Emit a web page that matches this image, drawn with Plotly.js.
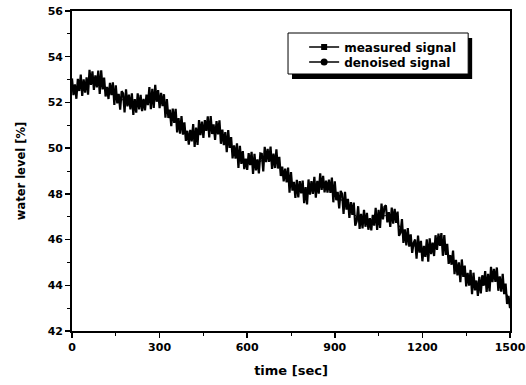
<!DOCTYPE html>
<html>
<head>
<meta charset="utf-8">
<script src="https://cdn.plot.ly/plotly-3.0.1.min.js"></script>
<style>html,body{margin:0;padding:0;background:#fff;}#chart{width:526px;height:385px;}</style>
</head>
<body>
<div id="chart"></div>
<script>
// sampling of the measured signal (sec)
var measuredT0 = 0;
var measuredDt = 5;
// measured water level [%], one value every 5 s
var measuredSignal = [
  53.05, 52.32, 52.79, 52.16, 53.03,
  52.50, 53.22, 52.29, 53.01, 52.43,
  53.10, 52.34, 53.43, 52.77, 53.36,
  52.55, 53.18, 52.66, 53.39, 52.37,
  53.40, 52.57, 53.09, 52.26, 52.68,
  52.15, 52.86, 52.32, 52.88, 51.89,
  52.75, 51.96, 52.37, 51.68, 52.49,
  52.40, 51.56, 52.57, 51.83, 52.34,
  51.70, 52.40, 51.45, 52.15, 51.55,
  52.40, 51.69, 52.33, 51.62, 52.16,
  51.65, 52.34, 51.88, 52.67, 51.71,
  52.60, 51.76, 52.77, 52.03, 52.54,
  51.75, 52.42, 51.84, 52.36, 51.33,
  52.15, 51.32, 51.69, 50.96, 51.73,
  51.10, 51.72, 50.69, 51.31, 50.63,
  51.40, 50.59, 51.13, 50.32, 50.76,
  50.15, 50.80, 50.30, 51.05, 50.05,
  50.90, 50.14, 51.23, 50.57, 51.16,
  50.45, 51.23, 50.76, 51.39, 50.47,
  51.40, 50.62, 51.04, 50.36, 51.18,
  50.60, 51.22, 50.19, 50.81, 50.13,
  50.70, 49.82, 50.79, 50.01, 50.48,
  49.55, 50.12, 49.54, 50.21, 49.13,
  50.10, 49.31, 49.87, 49.08, 49.54,
  49.05, 49.78, 49.26, 49.84, 48.87,
  49.75, 49.03, 49.51, 48.89, 49.77,
  49.75, 48.98, 50.06, 49.39, 49.97,
  49.40, 50.07, 49.09, 49.76, 49.13,
  49.95, 49.11, 49.62, 48.78, 49.19,
  48.55, 49.10, 48.50, 49.15, 48.05,
  48.95, 48.14, 48.53, 47.82, 48.61,
  47.85, 48.56, 48.02, 48.58, 47.59,
  48.30, 47.54, 48.63, 47.97, 48.56,
  48.00, 48.74, 47.83, 48.57, 48.01,
  48.90, 48.17, 48.79, 48.06, 48.58,
  48.05, 48.62, 48.04, 48.71, 47.63,
  48.55, 47.72, 48.09, 47.36, 48.13,
  48.00, 47.12, 48.09, 47.31, 47.78,
  46.95, 47.64, 47.08, 47.62, 46.61,
  46.80, 47.46, 46.47, 47.13, 46.49,
  47.30, 46.56, 47.17, 46.43, 46.94,
  46.40, 47.08, 46.61, 47.39, 46.42,
  47.30, 46.51, 47.57, 46.88, 47.44,
  47.50, 46.75, 47.20, 46.55, 47.40,
  46.70, 47.34, 46.73, 47.22, 46.16,
  46.30, 46.90, 45.85, 46.45, 45.75,
  46.50, 45.69, 46.23, 45.42, 45.86,
  46.00, 45.16, 46.17, 45.43, 45.94,
  45.05, 45.72, 45.24, 46.01, 45.03,
  46.05, 45.36, 45.87, 45.28, 46.19,
  45.55, 46.26, 45.72, 46.28, 45.29,
  46.20, 45.33, 45.81, 44.94, 45.32,
  44.90, 45.52, 44.49, 45.11, 44.43,
  45.00, 44.14, 45.13, 44.37, 44.86,
  43.95, 44.54, 43.98, 44.67, 43.61,
  44.55, 43.78, 44.21, 43.54, 44.37,
  43.65, 44.44, 43.98, 44.62, 43.71,
  44.50, 43.73, 44.81, 44.14, 44.72,
  44.15, 44.78, 43.76, 44.39, 43.72,
  44.50, 43.61, 44.07, 43.18, 43.54,
  43.00
];
// denoised water level [%], one value every 25 s
var denoisedT0 = 0;
var denoisedDt = 25;
var denoisedSignal = [
  52.6, 52.7, 52.8, 53.0, 52.9, 52.5, 52.3, 52.1, 51.9, 51.9,
  52.1, 52.3, 52.1, 51.7, 51.3, 50.9, 50.6, 50.6, 50.8, 50.95,
  50.8, 50.4, 50.0, 49.6, 49.4, 49.3, 49.45, 49.6, 49.45, 49.0,
  48.5, 48.2, 48.0, 48.2, 48.4, 48.5, 48.1, 47.7, 47.3, 47.0,
  46.8, 46.85, 47.0, 47.05, 47.05, 46.5, 46.0, 45.7, 45.5, 45.6,
  45.9, 45.7, 45.1, 44.7, 44.4, 44.1, 44.0, 44.2, 44.35, 44.0,
  43.3
];
var seriesNames = ['measured signal', 'denoised signal'];
var xTicks = [0, 300, 600, 900, 1200, 1500];
var yTicks = [42, 44, 46, 48, 50, 52, 54, 56];

var FONT = 'DejaVu Sans';
var traces = [
  {type: 'scatter', mode: 'lines', x0: denoisedT0, dx: denoisedDt, y: denoisedSignal,
   line: {color: '#000', width: 1}, showlegend: false, hoverinfo: 'skip'},
  {type: 'scatter', mode: 'lines', x0: measuredT0, dx: measuredDt, y: measuredSignal,
   line: {color: '#000', width: 2.2}, showlegend: false, hoverinfo: 'skip'},
  // legend entries
  {type: 'scatter', mode: 'lines+markers', x: [null], y: [null], name: seriesNames[0],
   line: {color: '#000', width: 1.5}, marker: {symbol: 'square', size: 6, color: '#000'},
   legend: 'legend'},
  {type: 'scatter', mode: 'lines+markers', x: [null], y: [null], name: seriesNames[1],
   line: {color: '#000', width: 1.5}, marker: {symbol: 'circle', size: 7, color: '#000'},
   legend: 'legend2'}
];

var legendCommon = {
  xanchor: 'left', yanchor: 'middle', bgcolor: 'rgba(0,0,0,0)', borderwidth: 0,
  font: {family: FONT, size: 12, color: '#000', weight: 'bold'}
};

var layout = {
  width: 526, height: 385,
  margin: {l: 72, r: 16, t: 11, b: 54},
  paper_bgcolor: '#fff', plot_bgcolor: '#fff',
  font: {family: FONT, color: '#000'},
  showlegend: true,
  legend: Object.assign({x: 0.53, y: 0.8875}, legendCommon),
  legend2: Object.assign({x: 0.53, y: 0.8406}, legendCommon),
  xaxis: {
    range: [0, 1500], tickmode: 'array', tickvals: xTicks, ticktext: xTicks.map(String),
    ticks: 'outside', ticklen: 5, tickwidth: 1.5, tickcolor: '#000',
    minor: {dtick: 150, tick0: 0, ticks: 'outside', ticklen: 3, tickwidth: 1, tickcolor: '#000', showgrid: false},
    showline: true, linecolor: '#000', linewidth: 1.8, mirror: true,
    showgrid: false, zeroline: false,
    tickfont: {family: FONT, size: 11, weight: 'bold', color: '#000'},
    title: {text: 'time [sec]', font: {family: FONT, size: 13, weight: 'bold', color: '#000'}, standoff: 13}
  },
  yaxis: {
    range: [42, 56], tickmode: 'array', tickvals: yTicks, ticktext: yTicks.map(String),
    ticks: 'outside', ticklen: 5, tickwidth: 1.5, tickcolor: '#000',
    minor: {dtick: 1, tick0: 42, ticks: 'outside', ticklen: 3, tickwidth: 1, tickcolor: '#000', showgrid: false},
    showline: true, linecolor: '#000', linewidth: 1.8, mirror: true,
    showgrid: false, zeroline: false,
    tickfont: {family: FONT, size: 11, weight: 'bold', color: '#000'},
    title: {text: 'water level [%]', font: {family: FONT, size: 11.5, weight: 'bold', color: '#000'}, standoff: 20}
  },
  shapes: [
    // legend drop shadow
    {type: 'rect', xref: 'paper', yref: 'paper', x0: 0.5023, x1: 0.9136, y0: 0.7875, y1: 0.9156,
     fillcolor: '#000', line: {width: 0}, layer: 'above'},
    // legend box
    {type: 'rect', xref: 'paper', yref: 'paper', x0: 0.4932, x1: 0.9045, y0: 0.8031, y1: 0.93125,
     fillcolor: '#fff', line: {color: '#000', width: 1}, layer: 'above'}
  ]
};

Plotly.newPlot('chart', traces, layout, {staticPlot: true, displayModeBar: false});
</script>
</body>
</html>
